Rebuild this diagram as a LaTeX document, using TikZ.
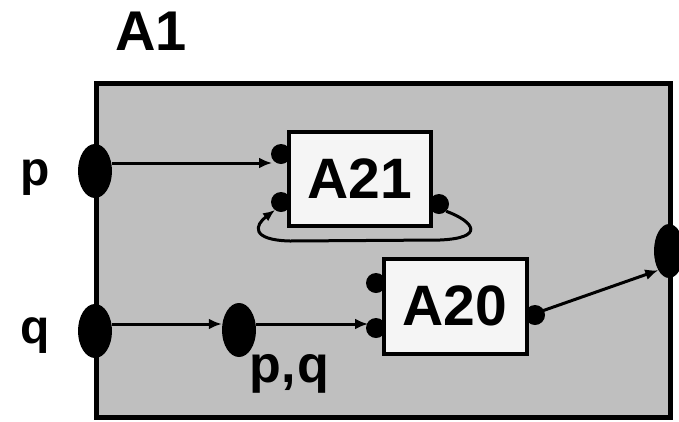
\documentclass[tikz,border=0pt]{standalone}
\usepackage{fontspec}
\setmainfont{Liberation Sans}
\usetikzlibrary{arrows.meta,shapes.geometric}
\begin{document}
\begin{tikzpicture}[x=1pt,y=-1pt,
  lbl/.style={font=\fontsize{48}{50}\selectfont\bfseries, inner sep=0pt},
  boxlbl/.style={font=\fontsize{57}{60}\selectfont\bfseries},
  port/.style={ellipse, fill=black, minimum width=34pt, minimum height=54pt, inner sep=0pt},
  dot/.style={circle, fill=black, minimum size=20pt, inner sep=0pt},
  conn/.style={line width=3pt, -{Latex[length=13pt,width=11pt]}},
  act/.style={draw=black, line width=4pt, fill=white!96!black, minimum width=142pt, minimum height=94pt, inner sep=0pt}]
\useasboundingbox (0,0) rectangle (679,421);
\node[font=\fontsize{56}{58}\selectfont\bfseries, inner sep=0pt] (a1) at (151,31) {A1};
\draw[line width=5pt, fill=black!25] (96,83) rectangle (670,417);
\node[lbl] (lp) at (35,178) {p};
\node[lbl] (lq) at (35,336) {q};
\node[font=\fontsize{52}{54}\selectfont\bfseries, inner sep=0pt, anchor=base] (lpq) at (289,382) {p\hspace{1pt},\hspace{1pt}q};
% A21
\node[dot] (a21i1) at (281,154) {};
\node[dot] (a21i2) at (281,202) {};
\node[dot] (a21o) at (439,204) {};
\node[act] (a21) at (360,179) {};
\node[boxlbl] at (a21) {A21};
% A20
\node[dot] (a20i1) at (376,283) {};
\node[dot] (a20i2) at (376,328) {};
\node[dot] (a20o) at (535,315) {};
\node[act, minimum width=143pt, minimum height=95pt] (a20) at (455,306) {};
\node[boxlbl] at (a20) {A20};
% ports
\node[port] (p) at (95,171) {};
\node[port] (q) at (95,331) {};
\node[port] (pq) at (239,330) {};
\node[port, minimum width=30pt] (out) at (669,251) {};
% connectors
\draw[conn] (p.east |- 0,163) -- (272,163) coordinate (pe);
\draw[conn] (q.east |- 0,324) -- (pq.west |- 0,324);
\draw[conn] (pq.east |- 0,324) -- (368,324);
\draw[conn] (542,311) -- (out.south west);
\draw[line width=3pt, -{Latex[length=12pt,width=10pt]}] (a21o.south east) .. controls (475,222) and (485,238) .. (440,240) -- (290,241) .. controls (250,240) and (255,225) .. (275,210);
\end{tikzpicture}
\end{document}
